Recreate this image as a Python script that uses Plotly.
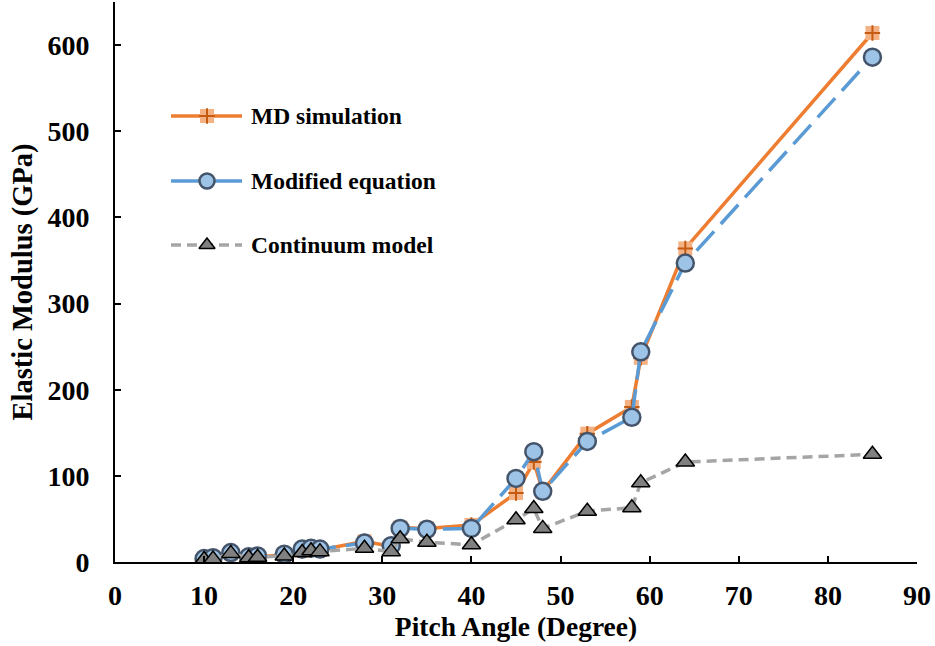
import plotly.graph_objects as go

# ---- data ----
angle = [10, 11, 13, 15, 16, 19, 21, 22, 23, 28, 31, 32, 35, 40, 45, 47, 48, 53, 58, 59, 64, 85]
md_sim = [3, 4, 10, 6, 6, 8, 13, 14, 14, 24, 18, 40, 39, 43, 80, 116, 82, 149, 180, 237, 364, 614]
modified = [4, 5, 11, 6, 7, 9, 15, 16, 15, 22, 19, 39, 38, 39, 97, 128, 82, 140, 168, 244, 347, 586]
continuum = [3, 3.5, 10, 5, 5.5, 7, 11, 13, 12, 16, 12, 27, 23, 20, 49, 62, 39, 59, 63, 92, 116, 125]

series_names = ["MD simulation", "Modified equation", "Continuum model"]
x_ticks = list(range(0, 91, 10))
y_ticks = list(range(0, 601, 100))

FONT = "Liberation Serif, Times New Roman, serif"
ORANGE = "#ED7D31"
ORANGE_LIGHT = "#F4B183"
ORANGE_DARK = "#C55A11"
BLUE = "#5B9BD5"
BLUE_LIGHT = "#9DC3E6"
NAVY = "#44546A"
GRAY = "#A5A5A5"
TRI = "#808080"

fig = go.Figure()

# MD simulation
fig.add_trace(go.Scatter(
    x=angle, y=md_sim, mode="lines+markers", name=series_names[0], showlegend=False,
    line=dict(color=ORANGE, width=3.5),
    marker=dict(symbol="square", size=14, color=ORANGE_LIGHT, line=dict(width=0)),
))
fig.add_trace(go.Scatter(
    x=angle, y=md_sim, mode="markers", showlegend=False, hoverinfo="skip",
    marker=dict(symbol="cross-thin", size=11, color=ORANGE_DARK,
                line=dict(color=ORANGE_DARK, width=2)),
))
# Modified equation
fig.add_trace(go.Scatter(
    x=angle, y=modified, mode="lines+markers", name=series_names[1], showlegend=False,
    line=dict(color=BLUE, width=3.5, dash="26px,10px"),
    marker=dict(symbol="circle", size=17, color=BLUE_LIGHT, line=dict(color=NAVY, width=2.5)),
))
# Continuum model
fig.add_trace(go.Scatter(
    x=angle, y=continuum, mode="lines+markers", name=series_names[2], showlegend=False,
    line=dict(color=GRAY, width=3.5, dash="10px,6px"),
    marker=dict(symbol="triangle-up", size=16, color=TRI, line=dict(color="black", width=1.5)),
))

# ---- manual legend on an overlay (pixel-like) axis ----
leg_y = [116, 181, 245]
leg_styles = [
    (dict(color=ORANGE, width=3.5), dict(symbol="square", size=14, color=ORANGE_LIGHT, line=dict(width=0))),
    (dict(color=BLUE, width=3.5), dict(symbol="circle", size=15, color=BLUE_LIGHT, line=dict(color=NAVY, width=2.5))),
    (dict(color=GRAY, width=3.5, dash="10px,6px"), dict(symbol="triangle-up", size=14, color=TRI, line=dict(color="black", width=1.5))),
]
for i, (ln, mk) in enumerate(leg_styles):
    fig.add_trace(go.Scatter(x=[171, 242], y=[leg_y[i]] * 2, mode="lines", line=ln,
                             xaxis="x2", yaxis="y2", showlegend=False, hoverinfo="skip"))
    fig.add_trace(go.Scatter(x=[207], y=[leg_y[i]], mode="markers", marker=mk,
                             xaxis="x2", yaxis="y2", showlegend=False, hoverinfo="skip"))
    if i == 0:
        fig.add_trace(go.Scatter(x=[207], y=[leg_y[i]], mode="markers",
                                 marker=dict(symbol="cross-thin", size=11, color=ORANGE_DARK,
                                             line=dict(color=ORANGE_DARK, width=2)),
                                 xaxis="x2", yaxis="y2", showlegend=False, hoverinfo="skip"))
    fig.add_annotation(x=249, y=leg_y[i], xref="x2", yref="y2", text=f"<b>{series_names[i]}</b>",
                       showarrow=False, xanchor="left", yanchor="middle",
                       font=dict(family=FONT, size=23.5, color="black"))

axis_common = dict(
    showgrid=False, zeroline=False, showline=True, linecolor="black", linewidth=2,
    ticks="inside", ticklen=6, tickwidth=1.5, tickcolor="black",
    tickfont=dict(family=FONT, size=28, color="black", weight="bold"),
)

fig.update_layout(
    width=935, height=646,
    margin=dict(l=115, r=18, t=2, b=84),
    paper_bgcolor="white", plot_bgcolor="white",
    showlegend=False,
    xaxis=dict(range=[0, 90], tickvals=x_ticks, ticklabelstandoff=7,
               title=dict(text="Pitch Angle (Degree)", standoff=0,
                          font=dict(family=FONT, size=27.5, color="black", weight="bold")),
               **axis_common),
    yaxis=dict(range=[0, 650], tickvals=y_ticks, ticklabelstandoff=18,
               title=dict(text="Elastic Modulus (GPa)", standoff=6,
                          font=dict(family=FONT, size=28.5, color="black", weight="bold")),
               **axis_common),
    xaxis2=dict(overlaying="x", range=[115, 917], visible=False, fixedrange=True),
    yaxis2=dict(overlaying="y", range=[562, 2], visible=False, fixedrange=True),
)

fig.write_html("out.html")
